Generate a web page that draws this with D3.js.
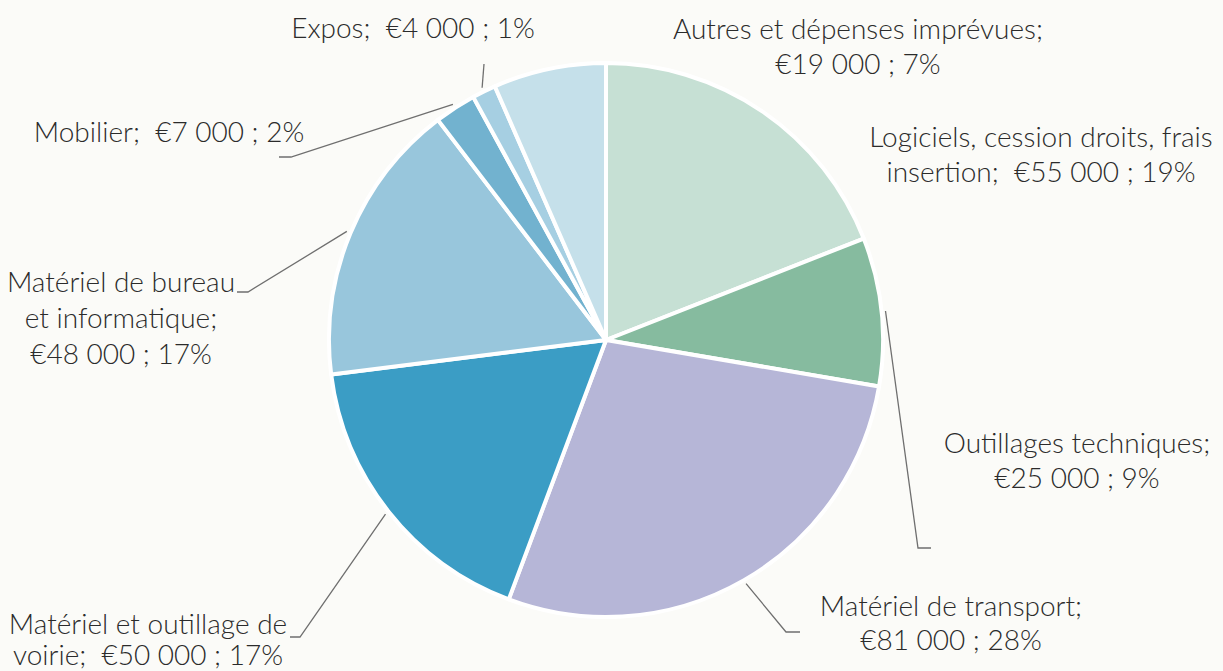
<!DOCTYPE html>
<html>
<head>
<meta charset="utf-8">
<script src="https://cdn.jsdelivr.net/npm/d3@7"></script>
<style>
  body { margin: 0; background: #fbfbf8; }
  text { font-family: Lato, "Open Sans", sans-serif; font-weight: 300; white-space: pre; }
</style>
</head>
<body>
<div id="pieChart"></div>
<script>
// data (order = clockwise from 12 o'clock)
var categories = ["Logiciels, cession droits, frais insertion", "Outillages techniques",
    "Matériel de transport", "Matériel et outillage de voirie",
    "Matériel de bureau et informatique", "Mobilier", "Expos", "Autres et dépenses imprévues"]
var amounts = [55000, 25000, 81000, 50000, 48000, 7000, 4000, 19000]
// label text, split on lines as printed
var labelLines = [
    ["Logiciels, cession droits, frais", "insertion;  {v} ; {p}"],
    ["Outillages techniques;", "{v} ; {p}"],
    ["Matériel de transport;", "{v} ; {p}"],
    ["Matériel et outillage de", "voirie;  {v} ; {p}"],
    ["Matériel de bureau", "et informatique;", "{v} ; {p}"],
    ["Mobilier;  {v} ; {p}"],
    ["Expos;  {v} ; {p}"],
    ["Autres et dépenses imprévues;", "{v} ; {p}"]
]
var colors = ["#c6e0d4", "#86bb9f", "#b6b6d7", "#3b9dc5", "#98c6dc", "#72b2cf", "#a6cfe2", "#c5e0ea"]

// layout of labels and leader lines
var labelLayout = [
    {x: 1041, y: 147, lh: 35, leader: []},
    {x: 1077, y: 453, lh: 35, leader: [[918, 548], [931, 548]]},
    {x: 951, y: 616, lh: 34, leader: [[786, 632], [800, 632]]},
    {x: 148, y: 634, lh: 31, leader: [[300, 637], [290, 637]]},
    {x: 121, y: 292, lh: 36, leader: [[248, 292], [237, 292]]},
    {x: 169, y: 142, lh: 35, leader: [[291, 157], [279, 157]]},
    {x: 413, y: 38, lh: 35, leader: [[484, 64]]},
    {x: 858, y: 39, lh: 35, leader: []}
]

var width = 1223, height = 671
var cx = 606, cy = 340, radius = 277

var svg = d3.select("#pieChart")
    .append("svg")
    .attr("width", width)
    .attr("height", height)

var g = svg.append("g")
    .attr("transform", "translate(" + cx + "," + cy + ")")

var total = d3.sum(amounts)
var data = categories.map(function(c, i) { return {name: c, value: amounts[i], i: i} })

var pie = d3.pie()
    .sort(null)
    .value(function(d) { return d.value })

var arc = d3.arc()
    .innerRadius(0)
    .outerRadius(radius)

var arcs = pie(data)

g.selectAll("path.slice")
    .data(arcs)
    .enter()
    .append("path")
    .attr("class", "slice")
    .attr("d", arc)
    .attr("fill", function(d) { return colors[d.data.i] })
    .attr("stroke", "#ffffff")
    .attr("stroke-width", 4)
    .attr("stroke-linejoin", "round")

// euro formatting with space as thousands separator
var fmt = d3.formatLocale({decimal: ",", thousands: " ", grouping: [3], currency: ["€", ""]}).format("$,")

// leader lines start just outside the rim, at the slice mid angle
var lineGen = d3.line()
arcs.forEach(function(d) {
    var lay = labelLayout[d.data.i]
    if (!lay.leader.length) return
    var a = (d.startAngle + d.endAngle) / 2
    var r0 = radius + 4
    var start = [cx + r0 * Math.sin(a), cy - r0 * Math.cos(a)]
    svg.append("path")
        .attr("d", lineGen([start].concat(lay.leader)))
        .attr("fill", "none")
        .attr("stroke", "#6f6f6f")
        .attr("stroke-width", 1.3)
})

// labels
data.forEach(function(d) {
    var lay = labelLayout[d.i]
    var pct = Math.round(d.value / total * 100) + "%"
    var t = svg.append("text")
        .attr("x", lay.x)
        .attr("y", lay.y)
        .attr("text-anchor", "middle")
        .attr("font-size", 28)
        .attr("fill", "#2b2b2b")
    labelLines[d.i].forEach(function(line, k) {
        t.append("tspan")
            .attr("x", lay.x)
            .attr("dy", k === 0 ? 0 : lay.lh)
            .text(line.replace("{v}", fmt(d.value)).replace("{p}", pct))
    })
})
</script>
</body>
</html>
